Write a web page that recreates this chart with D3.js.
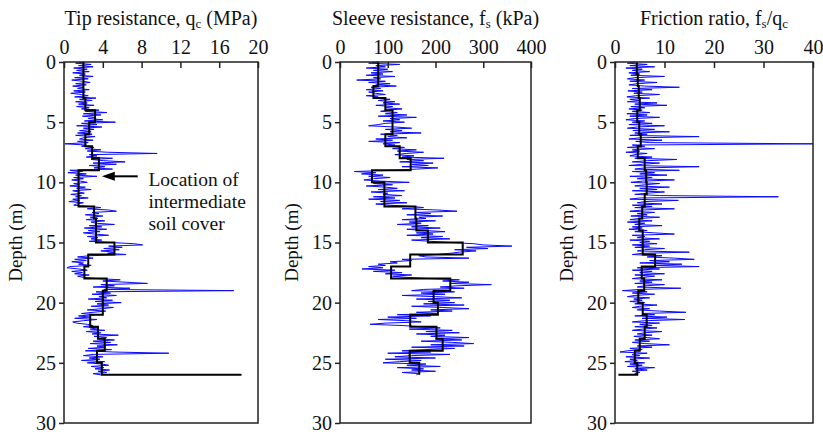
<!DOCTYPE html>
<html>
<head>
<meta charset="utf-8">
<script src="https://cdn.jsdelivr.net/npm/d3@7"></script>
<style>
  body { margin: 0; background: #fff; }
  text { font-family: "Liberation Serif", "Times New Roman", serif; fill: #111; }
</style>
</head>
<body>
<div class="chart"></div>
<script>
// depth of each reading (m), one every 0.1 m from 0 to 26
var depths = d3.range(0, 261).map(function(i) { return i / 10; });

// tip resistance qc (MPa)
var qcValues = [
  2.1, 1.2, 2.8, 1.5, 3.0, 1.0, 2.4, 1.3, 2.6, 0.9,
  2.2, 1.6, 3.0, 1.1, 2.5, 0.8, 1.9, 2.7, 1.2, 2.3,
  0.9, 2.0, 1.4, 2.6, 1.0, 2.2, 0.7, 1.8, 2.5, 1.1,
  3.3, 1.6, 2.9, 1.2, 2.4, 1.5, 3.1, 1.3, 2.6, 1.8,
  3.6, 2.2, 4.4, 2.0, 3.8, 1.9, 3.2, 2.5, 4.0, 2.1,
  5.3, 1.8, 3.4, 1.3, 3.9, 2.0, 3.1, 1.6, 2.8, 1.4,
  2.9, 1.2, 3.2, 2.0, 1.6, 3.0, 1.4, 2.5, 0.1, 2.3,
  1.8, 3.1, 2.2, 3.8, 2.4, 4.5, 9.6, 2.6, 3.4, 2.3,
  5.0, 2.8, 4.1, 6.3, 3.0, 5.4, 2.6, 4.2, 3.1, 5.0,
  0.6, 1.9, 0.4, 2.3, 1.2, 3.4, 1.0, 2.0, 0.8, 1.7,
  2.4, 1.0, 1.6, 0.6, 2.2, 1.3, 2.8, 0.9, 1.5, 2.1,
  0.7, 1.8, 1.2, 2.5, 0.9, 1.6, 0.5, 2.0, 1.3, 1.0,
  2.6, 3.8, 2.4, 4.6, 5.4, 2.9, 3.6, 2.2, 4.0, 2.7,
  3.5, 2.3, 4.2, 2.8, 3.3, 5.2, 2.6, 3.9, 2.1, 4.4,
  2.5, 3.7, 2.0, 3.2, 4.6, 2.4, 3.5, 2.8, 3.9, 2.6,
  4.8, 7.2, 8.1, 4.6, 6.0, 4.1, 5.7, 3.8, 5.2, 4.5,
  6.4, 2.6, 1.4, 3.0, 1.1, 2.3, 0.8, 2.0, 1.5, 2.8,
  0.6, 0.3, 1.5, 2.4, 0.8, 1.9, 1.1, 2.6, 1.4, 2.0,
  3.5, 5.8, 4.0, 6.4, 8.6, 3.8, 5.2, 3.0, 6.8, 4.1,
  17.5, 3.3, 4.8, 2.9, 5.4, 3.6, 4.4, 2.5, 5.0, 3.2,
  5.9, 3.4, 4.6, 2.8, 5.1, 3.9, 2.4, 4.3, 3.0, 1.8,
  3.2, 1.5, 2.6, 1.1, 3.4, 2.0, 0.9, 1.3, 2.4, 3.0,
  2.0, 3.4, 2.7, 4.2, 2.3, 3.8, 2.9, 5.6, 3.1, 4.4,
  3.6, 5.2, 3.0, 4.8, 2.7, 5.5, 3.4, 4.3, 2.5, 4.9,
  2.2, 5.1, 10.8, 3.0, 2.0, 4.0, 2.6, 3.7, 1.8, 4.2,
  2.4, 3.9, 4.6, 2.8, 4.1, 3.2, 4.7, 3.5, 4.4, 3.0,
  3.8
];

// sleeve resistance fs (kPa)
var fsValues = [
  80, 60, 125, 75, 95, 55, 100, 70, 110, 65,
  90, 55, 115, 70, 85, 35, 95, 60, 105, 75,
  118, 65, 85, 55, 90, 60, 75, 95, 55, 80,
  70, 105, 80, 115, 90, 125, 75, 110, 95, 130,
  100, 85, 120, 95, 140, 80, 160, 105, 125, 90,
  135, 95, 80, 60, 115, 150, 95, 130, 105, 170,
  85, 120, 100, 140, 75, 110, 60, 125, 90, 115,
  100, 135, 110, 160, 120, 175, 140, 115, 155, 130,
  218, 140, 175, 125, 195, 150, 185, 130, 205, 160,
  110, 30, 75, 45, 90, 60, 105, 70, 50, 85,
  145, 70, 110, 55, 95, 120, 80, 135, 65, 100,
  90, 130, 70, 115, 60, 125, 85, 140, 75, 105,
  150, 175, 130, 205, 245, 160, 190, 140, 215, 165,
  180, 130, 200, 145, 170, 120, 185, 150, 210, 140,
  175, 220, 160, 195, 140, 215, 170, 230, 150, 190,
  230, 280, 300, 360, 265, 310, 240, 285, 250, 230,
  200, 165, 180, 270, 130, 150, 105, 120, 80, 95,
  60, 90, 46, 115, 70, 130, 95, 150, 110, 140,
  190, 250, 215, 270, 230, 317, 245, 210, 260, 175,
  150, 240, 170, 220, 130, 200, 255, 160, 230, 185,
  240, 175, 260, 150, 215, 270, 190, 235, 160, 205,
  120, 190, 100, 160, 80, 140, 170, 95, 63, 130,
  170, 210, 145, 235, 180, 250, 160, 220, 190, 270,
  200, 255, 170, 235, 280, 190, 260, 150, 240, 180,
  130, 190, 100, 230, 150, 115, 200, 95, 170, 125,
  90, 180, 140, 210, 120, 175, 150, 200, 130, 165,
  160
];

// friction ratio fs/qc
var rfValues = [
  4.0, 2.5, 6.5, 3.0, 8.0, 2.2, 5.5, 3.5, 7.0, 2.8,
  5.0, 3.2, 10.0, 4.0, 2.5, 6.0, 3.0, 8.5, 4.5, 2.8,
  6.0, 13.0, 3.5, 7.5, 2.6, 5.5, 3.8, 9.0, 4.2, 2.4,
  7.0, 3.0, 5.0, 2.5, 8.5, 4.0, 10.5, 3.2, 6.0, 2.8,
  5.5, 3.5, 7.0, 2.4, 6.5, 3.0, 9.0, 4.0, 2.2, 6.0,
  3.5, 7.5, 2.8, 10.0, 4.5, 2.5, 8.0, 3.6, 11.0, 4.0,
  6.5, 3.0, 17.0, 5.0, 2.8, 9.5, 4.2, 7.0, 40.0, 3.5,
  6.0, 2.5, 8.0, 3.5, 5.0, 2.2, 6.5, 4.0, 3.0, 7.5,
  4.0, 12.5, 6.5, 3.5, 9.0, 5.5, 2.8, 17.0, 6.0, 4.0,
  13.0, 3.5, 8.0, 5.0, 10.5, 3.0, 7.5, 4.5, 12.0, 5.5,
  3.2, 9.0, 6.0, 4.0, 11.0, 5.0, 8.5, 3.5, 10.0, 6.5,
  4.0, 9.0, 33.0, 5.0, 3.0, 12.8, 6.0, 4.5, 9.5, 3.5,
  7.5, 4.0, 12.0, 5.5, 3.0, 8.0, 4.5, 6.5, 3.2, 9.0,
  5.0, 3.0, 7.5, 2.5, 6.0, 4.0, 9.5, 3.5, 5.5, 2.8,
  6.5, 4.0, 8.0, 12.0, 3.5, 6.0, 4.5, 9.0, 3.0, 7.0,
  5.0, 8.5, 3.5, 7.0, 4.0, 10.0, 6.0, 4.5, 15.0, 5.5,
  3.5, 9.5, 6.5, 12.0, 16.0, 7.0, 11.0, 5.0, 13.5, 8.0,
  17.0, 4.5, 9.0, 3.5, 7.5, 5.0, 10.0, 4.0, 8.0, 5.5,
  3.5, 9.5, 5.0, 7.5, 4.0, 10.0, 6.0, 4.5, 13.3, 5.0,
  1.5, 6.5, 3.5, 8.0, 4.0, 2.5, 7.0, 3.8, 5.5, 3.0,
  6.0, 4.0, 8.5, 5.0, 3.5, 7.0, 4.5, 9.0, 14.3, 5.5,
  8.0, 4.0, 10.5, 5.5, 14.1, 6.0, 3.5, 9.0, 5.0, 7.5,
  4.0, 8.5, 5.5, 3.5, 9.5, 6.0, 4.5, 7.5, 3.8, 6.5,
  9.0, 4.0, 7.0, 3.5, 6.0, 11.0, 4.5, 7.5, 3.0, 5.5,
  2.5, 1.0, 6.5, 3.5, 5.0, 2.2, 7.0, 3.0, 4.5, 2.0,
  6.0, 3.0, 5.5, 2.5, 8.0, 4.0, 6.5, 3.5, 5.0, 4.0,
  4.5
];

// 1 m layer averages (black step lines), layer tops 0..25 m
var layerTops = d3.range(0, 26);
var qcLayers = [2.0, 2.0, 2.0, 2.2, 3.2, 2.6, 2.2, 2.9, 3.6, 1.5, 1.5, 1.5, 3.1,
                3.3, 3.3, 5.2, 2.5, 2.1, 4.4, 4.0, 4.0, 2.7, 3.5, 4.2, 3.4, 3.9];
var fsLayers = [80, 80, 70, 95, 110, 110, 95, 125, 148, 67, 93, 93, 158,
                160, 184, 257, 147, 107, 231, 196, 205, 147, 202, 215, 146, 166];
var rfLayers = [4.4, 4.6, 4.8, 5.0, 4.5, 4.9, 5.2, 4.6, 6.0, 6.3, 6.4, 6.0, 5.5,
                4.9, 5.6, 5.6, 8.1, 5.4, 5.9, 4.7, 5.6, 6.4, 6.0, 5.0, 4.0, 4.5];
// value the step line runs out to at the bottom of the sounding
var qcEnd = 18.3;
var rfEnd = 0.7;

var depthTicks = [0, 5, 10, 15, 20, 25, 30];
var qcTicks = [0, 4, 8, 12, 16, 20];
var fsTicks = [0, 100, 200, 300, 400];
var rfTicks = [0, 10, 20, 30, 40];

function stepPoints(layers, end) {
  var pts = [];
  layers.forEach(function(v, i) {
    pts.push([v, layerTops[i]]);
    pts.push([v, layerTops[i] + 1]);
  });
  if (end !== null) pts.push([end, layerTops[layerTops.length - 1] + 1]);
  return pts;
}

function init() {
  var width = 823,
      height = 434,
      top = 62,
      bottom = 423,
      fontSize = 20;

  var svg = d3.select('.chart')
    .append('svg')
      .attr('width', width)
      .attr('height', height);

  var y = d3.scaleLinear().domain([0, 30]).range([top, bottom]);

  var panels = [
    { title: ['Tip resistance, q', 'c', ' (MPa)'], domain: [0, 20], ticks: qcTicks,
      left: 64, right: 258, values: qcValues, steps: stepPoints(qcLayers, qcEnd) },
    { title: ['Sleeve resistance, f', 's', ' (kPa)'], domain: [0, 400], ticks: fsTicks,
      left: 340, right: 531, values: fsValues, steps: stepPoints(fsLayers, null) },
    { title: ['Friction ratio, f', 's', '/q', 'c'], domain: [0, 40], ticks: rfTicks,
      left: 615, right: 813, values: rfValues, steps: stepPoints(rfLayers, rfEnd) }
  ];

  panels.forEach(function(p, k) {
    var x = d3.scaleLinear().domain(p.domain).range([p.left, p.right]);
    p.x = x;
    var g = svg.append('g');

    // traces
    var raw = d3.line()
      .x(function(d) { return x(d[0]); })
      .y(function(d) { return y(d[1]); });

    g.append('path')
      .datum(p.values.map(function(v, i) { return [v, depths[i]]; }))
      .attr('d', raw)
      .attr('fill', 'none')
      .attr('stroke', '#0a0aff')
      .attr('stroke-width', 1);

    g.append('path')
      .datum(p.steps)
      .attr('d', raw)
      .attr('fill', 'none')
      .attr('stroke', '#000')
      .attr('stroke-width', 2);

    // frame
    g.append('rect')
      .attr('x', p.left)
      .attr('y', top)
      .attr('width', p.right - p.left)
      .attr('height', bottom - top)
      .attr('fill', 'none')
      .attr('stroke', '#222')
      .attr('stroke-width', 1.5);

    // top axis
    var topAxis = d3.axisTop(x).tickValues(p.ticks).tickSizeInner(-6).tickSizeOuter(0).tickPadding(8);
    var ta = g.append('g')
      .attr('transform', 'translate(0,' + top + ')')
      .call(topAxis);
    ta.select('.domain').remove();
    ta.selectAll('line').attr('stroke', '#222').attr('stroke-width', 1.5);
    ta.selectAll('text').attr('font-size', fontSize).attr('font-family', '"Liberation Serif", serif').attr('fill', '#111');

    // left axis
    var leftAxis = d3.axisLeft(y).tickValues(depthTicks).tickSizeInner(5).tickSizeOuter(0).tickPadding(3);
    var la = g.append('g')
      .attr('transform', 'translate(' + p.left + ',0)')
      .call(leftAxis);
    la.select('.domain').remove();
    la.selectAll('line').attr('stroke', '#222').attr('stroke-width', 1.5);
    la.selectAll('text').attr('font-size', fontSize).attr('font-family', '"Liberation Serif", serif').attr('fill', '#111');

    // title
    var t = g.append('text')
      .attr('x', (p.left + p.right) / 2)
      .attr('y', 25)
      .attr('text-anchor', 'middle')
      .attr('font-size', fontSize);
    p.title.forEach(function(s, j) {
      var sub = j % 2 === 1;
      t.append('tspan')
        .attr('font-size', sub ? 13 : fontSize)
        .attr('dy', sub ? 3 : (j > 0 ? -3 : 0))
        .text(s);
    });

    g.append('text')
      .attr('transform', 'translate(' + (p.left - 42) + ',' + y(15) + ') rotate(-90)')
      .attr('text-anchor', 'middle')
      .attr('font-size', 19)
      .text('Depth (m)');
  });

  // annotation in the tip resistance panel
  var xq = panels[0].x;
  var arrowDepth = 9.5;
  var ann = svg.append('g');
  ann.append('line')
    .attr('x1', xq(4.9)).attr('x2', xq(7.6))
    .attr('y1', y(arrowDepth)).attr('y2', y(arrowDepth))
    .attr('stroke', '#000').attr('stroke-width', 2);
  ann.append('path')
    .attr('d', 'M' + xq(3.9) + ',' + y(arrowDepth) +
               'L' + (xq(3.9) + 13) + ',' + (y(arrowDepth) - 4.5) +
               'L' + (xq(3.9) + 13) + ',' + (y(arrowDepth) + 4.5) + 'Z')
    .attr('fill', '#000');
  ['Location of', 'intermediate', 'soil cover'].forEach(function(s, i) {
    ann.append('text')
      .attr('x', xq(8.7))
      .attr('y', 186 + i * 22)
      .attr('font-size', 19.5)
      .text(s);
  });
}

d3.select(window).on('load', init);
</script>
</body>
</html>
